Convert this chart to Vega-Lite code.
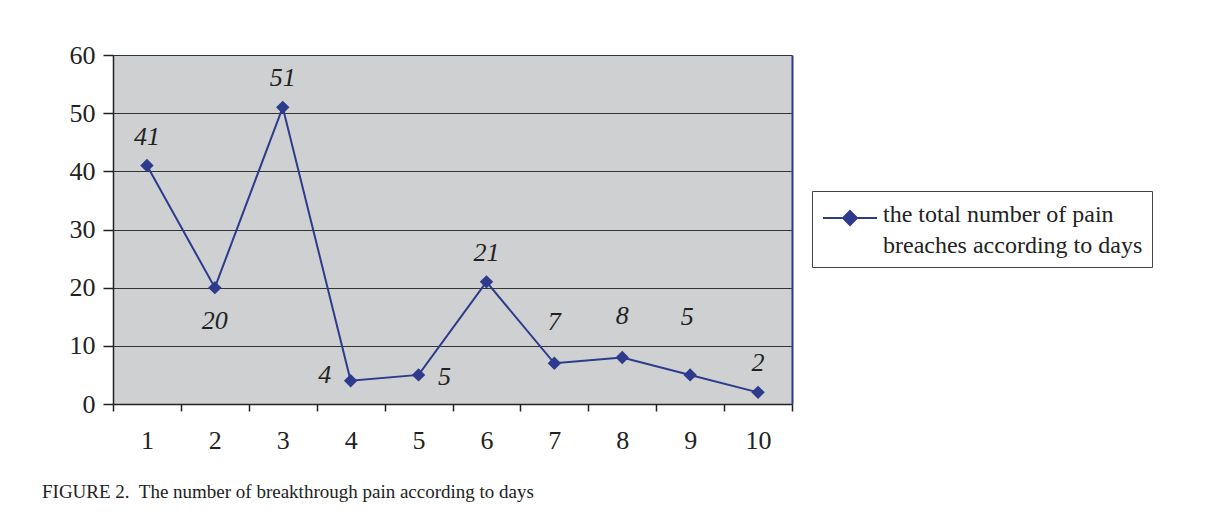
{
  "$schema": "https://vega.github.io/schema/vega-lite/v6.json",
  "width": 679,
  "height": 349,
  "autosize": {"type": "none"},
  "padding": {"left": 113, "top": 55, "right": 415, "bottom": 124},
  "background": "white",
  "config": {
    "view": {"fill": "#cfd0d2", "stroke": null},
    "font": "Liberation Serif"
  },
  "title": {
    "text": "FIGURE 2.\u00a0 The number of breakthrough pain according to days",
    "orient": "bottom",
    "anchor": "start",
    "frame": "group",
    "dx": -71,
    "offset": 30,
    "fontSize": 19,
    "fontWeight": "normal",
    "font": "Liberation Serif",
    "color": "#222"
  },
  "data": {
    "values": [
      {"day": 1, "count": 41, "series": "the total number of pain breaches according to days"},
      {"day": 2, "count": 20, "series": "the total number of pain breaches according to days"},
      {"day": 3, "count": 51, "series": "the total number of pain breaches according to days"},
      {"day": 4, "count": 4, "series": "the total number of pain breaches according to days"},
      {"day": 5, "count": 5, "series": "the total number of pain breaches according to days"},
      {"day": 6, "count": 21, "series": "the total number of pain breaches according to days"},
      {"day": 7, "count": 7, "series": "the total number of pain breaches according to days"},
      {"day": 8, "count": 8, "series": "the total number of pain breaches according to days"},
      {"day": 9, "count": 5, "series": "the total number of pain breaches according to days"},
      {"day": 10, "count": 2, "series": "the total number of pain breaches according to days"}
    ]
  },
  "encoding": {
    "x": {
      "field": "day",
      "type": "ordinal",
      "scale": {"paddingInner": 0, "paddingOuter": 0},
      "axis": {
        "title": null,
        "labelAngle": 0,
        "tickBand": "extent",
        "grid": false,
        "tickSize": 7,
        "labelPadding": 16,
        "labelFontSize": 26,
        "labelFont": "Liberation Serif",
        "labelColor": "#222",
        "domainColor": "#222",
        "domainWidth": 1.5,
        "tickColor": "#222",
        "tickWidth": 1.5
      }
    }
  },
  "resolve": {"axis": {"y": "independent"}},
  "layer": [
    {
      "encoding": {
        "y": {
          "field": "count",
          "type": "quantitative",
          "scale": {"domain": [0, 60], "nice": false},
          "axis": {
            "title": null,
            "orient": "left",
            "values": [0, 10, 20, 30, 40, 50, 60],
            "grid": true,
            "gridColor": "#333",
            "gridWidth": 1,
            "domainColor": "#222",
            "domainWidth": 1.5,
            "tickColor": "#222",
            "tickWidth": 1.5,
            "tickSize": 10,
            "labelFontSize": 26,
            "labelFont": "Liberation Serif",
            "labelColor": "#222",
            "labelPadding": 8
          }
        }
      },
      "layer": [
        {
          "mark": {"type": "line", "strokeWidth": 2},
          "encoding": {
            "color": {
              "field": "series",
              "type": "nominal",
              "scale": {"range": ["#2e3a8c"]},
              "legend": {
                "title": null,
                "orient": "none",
                "legendX": 699,
                "legendY": 136,
                "strokeColor": "#444",
                "fillColor": "white",
                "padding": 9,
                "symbolType": "M-1.588,0H1.588M0,-0.41L0.41,0L0,0.41L-0.41,0Z",
                "symbolSize": 1156,
                "symbolOffset": 11,
                "symbolStrokeWidth": 2,
                "symbolStrokeColor": "#2e3a8c",
                "symbolFillColor": "#2e3a8c",
                "labelFontSize": 24,
                "labelFont": "Liberation Serif",
                "labelColor": "#222",
                "labelExpr": "['the total number of pain', 'breaches according to days']",
                "labelLimit": 400,
                "labelOffset": 15,
                "labelLineHeight": 31,
                "labelBaseline": "top",
                "encode": {"labels": {"update": {"dy": {"value": -15}, "lineHeight": {"value": 31}}}}
              }
            }
          }
        },
        {
          "transform": [{"filter": "datum.day == 1 || datum.day == 3 || datum.day == 6 || datum.day == 10"}],
          "mark": {"type": "text", "dy": -29, "fontSize": 26, "fontStyle": "italic", "font": "Liberation Serif", "color": "#222", "baseline": "middle"},
          "encoding": {"text": {"field": "count", "type": "quantitative"}}
        },
        {
          "transform": [{"filter": "datum.day == 2"}],
          "mark": {"type": "text", "dy": 33, "fontSize": 26, "fontStyle": "italic", "font": "Liberation Serif", "color": "#222", "baseline": "middle"},
          "encoding": {"text": {"field": "count", "type": "quantitative"}}
        },
        {
          "transform": [{"filter": "datum.day == 4"}],
          "mark": {"type": "text", "dx": -26, "dy": -6, "fontSize": 26, "fontStyle": "italic", "font": "Liberation Serif", "color": "#222", "baseline": "middle"},
          "encoding": {"text": {"field": "count", "type": "quantitative"}}
        },
        {
          "transform": [{"filter": "datum.day == 5"}],
          "mark": {"type": "text", "dx": 26, "dy": 2, "fontSize": 26, "fontStyle": "italic", "font": "Liberation Serif", "color": "#222", "baseline": "middle"},
          "encoding": {"text": {"field": "count", "type": "quantitative"}}
        },
        {
          "transform": [{"filter": "datum.day == 7 || datum.day == 8"}],
          "mark": {"type": "text", "dy": -41, "fontSize": 26, "fontStyle": "italic", "font": "Liberation Serif", "color": "#222", "baseline": "middle"},
          "encoding": {"text": {"field": "count", "type": "quantitative"}}
        },
        {
          "transform": [{"filter": "datum.day == 9"}],
          "mark": {"type": "text", "dx": -3, "dy": -58, "fontSize": 26, "fontStyle": "italic", "font": "Liberation Serif", "color": "#222", "baseline": "middle"},
          "encoding": {"text": {"field": "count", "type": "quantitative"}}
        }
      ]
    },
    {
      "mark": {"type": "point", "shape": "diamond", "filled": true, "size": 180, "color": "#2e3a8c", "opacity": 1},
      "encoding": {
        "y": {
          "field": "count",
          "type": "quantitative",
          "axis": {"orient": "right", "labels": false, "ticks": false, "grid": false, "title": null, "domainColor": "#2e3a8c", "domainWidth": 2}
        }
      }
    }
  ]
}
